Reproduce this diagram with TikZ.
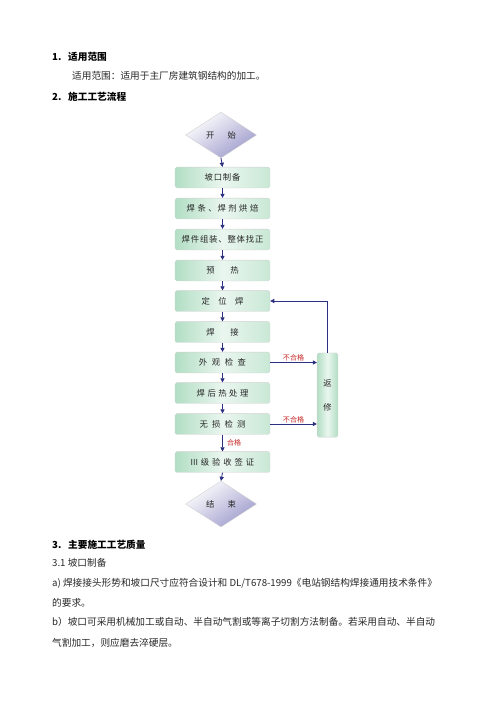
\documentclass[tikz,border=0pt]{standalone}
\usepackage{fontspec}
\setmainfont{Noto Sans CJK SC}
\usetikzlibrary{shapes.geometric, arrows.meta, positioning, calc}

\definecolor{flowblue}{RGB}{44,48,128}
\definecolor{failred}{RGB}{196,40,40}
\definecolor{boxgreen}{RGB}{178,222,196}
\definecolor{boxlight}{RGB}{234,246,239}
\definecolor{dmdpurple}{RGB}{158,156,204}
\definecolor{bodygray}{RGB}{40,40,40}

\begin{document}
\begin{tikzpicture}[x=1.2pt, y=-1.2pt,
    body/.style={anchor=west, inner sep=0pt, font=\fontsize{11.6}{12}\selectfont, text=bodygray},
    head/.style={anchor=west, inner sep=0pt, font=\fontsize{11.6}{12}\selectfont\bfseries},
    stepbox/.style={rectangle, rounded corners=2pt, draw=gray!35, line width=0.4pt, left color=boxgreen, right color=boxgreen!70, middle color=boxlight, minimum width=114pt, minimum height=25pt, inner sep=0pt, font=\fontsize{10}{11}\selectfont, text=black!85},
    ends/.style={diamond, draw=gray!40, line width=0.4pt, top color=white, bottom color=dmdpurple, shading angle=35, minimum width=85pt, minimum height=55pt, inner sep=0pt, font=\fontsize{10}{11}\selectfont, text=black!85},
    flow/.style={draw=flowblue, line width=1pt, -{Triangle[length=5pt,width=5pt]}},
    flag/.style={text=failred, font=\fontsize{8.5}{9}\selectfont, inner sep=1pt}]
        \useasboundingbox[fill=white] (0,0) rectangle (496,702);
        % headings and text above the chart
        \node[head] (h1num) at (52,57) {1.};
        \node[head] (h1) at (68,57) {适用范围};
        \node[body] (scope) at (72,76) {适用范围：适用于主厂房建筑钢结构的加工。};
        \node[head] (h2num) at (52,97) {2.};
        \node[head] (h2) at (68,97) {施工工艺流程};
        % chart steps
        \node[ends] (start) at (221,135) {开\hspace{1.6em}始};
        \node[stepbox] (pkzb) at (222.5,177.5) {坡\hspace{0.1em}口\hspace{0.1em}制\hspace{0.1em}备};
        \node[stepbox] (hthb) at (222.5,208.5) {焊\hspace{0.3em}条\hspace{0.3em}、\hspace{0.1em}焊\hspace{0.3em}剂\hspace{0.3em}烘\hspace{0.3em}焙};
        \node[stepbox] (zzzz) at (222.5,239.5) {焊\hspace{0.1em}件\hspace{0.1em}组\hspace{0.1em}装\hspace{0.1em}、\hspace{0.1em}整\hspace{0.1em}体\hspace{0.1em}找\hspace{0.1em}正};
        \node[stepbox] (yr) at (222.5,270.5) {预\hspace{1.9em}热};
        \node[stepbox] (dwh) at (222.5,301) {定\hspace{1em}位\hspace{1em}焊};
        \node[stepbox] (hj) at (222.5,332) {焊\hspace{1.9em}接};
        \node[stepbox] (wgjc) at (222.5,362.5) {外\hspace{0.55em}观\hspace{0.55em}检\hspace{0.55em}查};
        \node[stepbox] (hrcl) at (222.5,393) {焊\hspace{0.3em}后\hspace{0.3em}热\hspace{0.3em}处\hspace{0.3em}理};
        \node[stepbox] (wsjc) at (222.5,424) {无\hspace{0.5em}损\hspace{0.5em}检\hspace{0.5em}测};
        \node[stepbox] (ysqz) at (222.5,462) {III\hspace{0.35em}级\hspace{0.35em}验\hspace{0.35em}收\hspace{0.35em}签\hspace{0.35em}证};
        \node[ends] (finish) at (221,504) {结\hspace{1.6em}束};
        % repair box
        \node[stepbox, minimum width=25pt, minimum height=101pt, left color=boxgreen, right color=boxgreen, middle color=boxlight, align=center, font=\fontsize{10}{29}\selectfont] (fx) at (327.5,395) {返\\修};
        % main line
        \draw[flow] (start.south) -- (pkzb.north);
        \draw[flow] (pkzb) -- (hthb);
        \draw[flow] (hthb) -- (zzzz);
        \draw[flow] (zzzz) -- (yr);
        \draw[flow] (yr) -- (dwh);
        \draw[flow] (dwh) -- (hj);
        \draw[flow] (hj) -- (wgjc);
        \draw[flow] (wgjc) -- (hrcl);
        \draw[flow] (hrcl) -- (wsjc);
        \draw[flow] (wsjc) -- node[flag, right, xshift=4pt] (pass) {合格} (ysqz);
        \draw[flow] (ysqz.south) -- (finish.north);
        % failures and repair loop
        \draw[flow] (wgjc.east) -- node[flag, above] (fail1) {不合格} (wgjc.east -| fx.west);
        \draw[flow] (wsjc.east) -- node[flag, above] (fail2) {不合格} (wsjc.east -| fx.west);
        \draw[flow] (fx.north) |- (dwh.east);
        % text below the chart
        \node[head] (h3num) at (52,545) {3.};
        \node[head] (h3) at (68,545) {主要施工工艺质量};
        \node[body] (sec31) at (52,563) {3.1 坡口制备};
        \node[body] (itema) at (52,583) {a) 焊接接头形势和坡口尺寸应符合设计和 DL/T678-1999《电站钢结构焊接通用技术条件》};
        \node[body] (itema2) at (52,603) {的要求。};
        \node[body] (itemb) at (52,622) {b）坡口可采用机械加工或自动、半自动气割或等离子切割方法制备。若采用自动、半自动};
        \node[body] (itemb2) at (52,643) {气割加工，则应磨去淬硬层。};
    \end{tikzpicture}
\end{document}
